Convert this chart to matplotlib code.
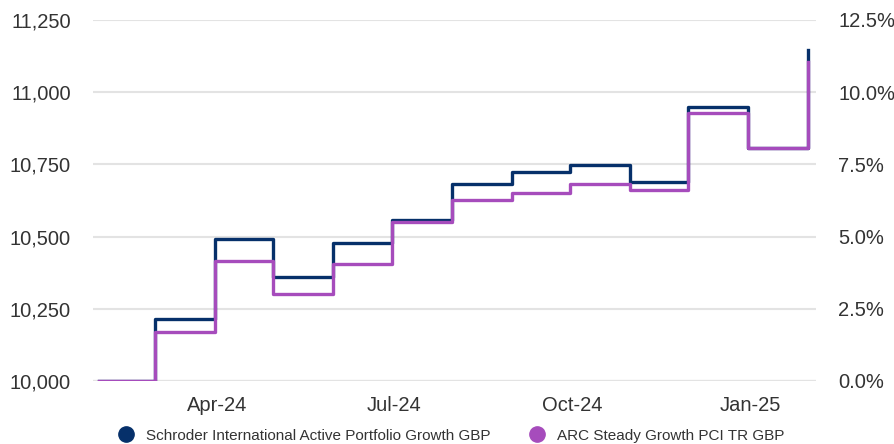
import matplotlib
matplotlib.use("Agg")
import matplotlib.pyplot as plt
import matplotlib.dates as mdates
import matplotlib.ticker as mtick
from matplotlib.lines import Line2D
import numpy as np
import pandas as pd

plt.rcParams['font.family'] = ['Liberation Sans', 'DejaVu Sans']

# month-end dates, values of 10,000 invested
dates = pd.to_datetime([
    "2024-01-31", "2024-02-29", "2024-03-31", "2024-04-30", "2024-05-31",
    "2024-06-30", "2024-07-31", "2024-08-31", "2024-09-30", "2024-10-31",
    "2024-11-30", "2024-12-31", "2025-01-31",
])
schroder = [10000, 10215, 10490, 10360, 10478, 10557, 10682, 10724, 10748,
            10690, 10949, 10807, 11146]
arc = [10000, 10170, 10415, 10301, 10405, 10551, 10627, 10651, 10682,
       10661, 10928, 10807, 11105]

names = ["Schroder International Active Portfolio Growth GBP",
         "ARC Steady Growth PCI TR GBP"]
colors = ["#06306a", "#a64cbc"]

fig = plt.figure(figsize=(8.95, 4.44), dpi=100)
ax = fig.add_axes([0.104, 0.142, 0.808, 0.813])

ax.step(dates, schroder, where="post", color=colors[0], lw=2.4, zorder=3)
ax.step(dates, arc, where="post", color=colors[1], lw=2.4, zorder=4)

ax.set_ylim(10000, 11250)
ax.set_yticks(np.arange(10000, 11251, 250))
ax.yaxis.set_major_formatter(mtick.StrMethodFormatter("{x:,.0f}"))
ax.set_xlim(pd.Timestamp("2024-01-28"), pd.Timestamp("2025-02-04"))
ax.xaxis.set_major_locator(mdates.MonthLocator(bymonth=[1, 4, 7, 10]))
ax.xaxis.set_major_formatter(mdates.DateFormatter("%b-%y"))

ax.grid(axis="y", color="#e3e3e3", lw=1.5, zorder=0)
for s in ax.spines.values():
    s.set_visible(False)
ax.axhline(10000, color="#cccccc", lw=1.5, zorder=1)
ax.tick_params(axis="both", length=0, labelsize=14.5, colors="#333333")
ax.tick_params(axis="y", pad=16)
ax.tick_params(axis="x", pad=11)

ax2 = ax.twinx()
ax2.set_position(ax.get_position())
ax2.set_ylim(0, 12.5)
ax2.set_yticks(np.arange(0, 12.6, 2.5))
ax2.yaxis.set_major_formatter(mtick.FormatStrFormatter("%.1f%%"))
for s in ax2.spines.values():
    s.set_visible(False)
ax2.tick_params(axis="y", length=0, labelsize=14.5, colors="#333333", pad=16)

handles = [Line2D([], [], marker="o", ls="", color=c, markersize=11) for c in colors]
fig.legend(handles, names, loc="lower center", bbox_to_anchor=(0.5, -0.028),
           ncol=2, frameon=False, fontsize=11, handletextpad=0.35,
           columnspacing=2.0, labelcolor="#333333")

fig.savefig("out.png", dpi=100)
